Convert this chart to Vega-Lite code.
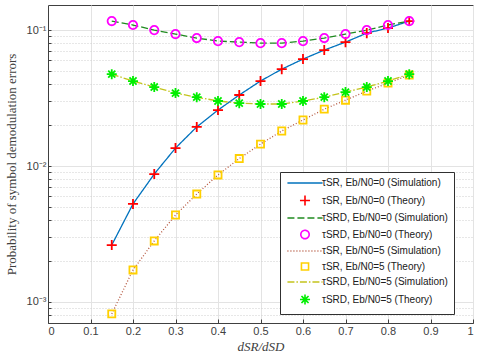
{
  "$schema": "https://vega.github.io/schema/vega-lite/v6.json",
  "width": 425,
  "height": 318,
  "autosize": {"type": "none"},
  "padding": {"left": 48, "top": 5, "right": 7, "bottom": 37},
  "background": "white",
  "config": {
    "view": {"stroke": "#404040", "strokeWidth": 1},
    "font": "Liberation Sans",
    "axis": {
      "domainColor": "#404040",
      "tickColor": "#404040",
      "labelColor": "#404040",
      "labelFontSize": 11,
      "labelFont": "Liberation Sans",
      "titleFont": "Liberation Serif",
      "titleFontWeight": "normal",
      "titleColor": "#404040",
      "gridColor": "#e3e3e3",
      "gridOpacity": 1
    },
    "legend": {
      "orient": "none",
      "legendX": 232,
      "legendY": 167,
      "padding": 6,
      "fillColor": "white",
      "strokeColor": "#303030",
      "labelFontSize": 10,
      "labelFont": "Liberation Sans",
      "labelColor": "#202020",
      "labelLimit": 300,
      "symbolSize": 70,
      "symbolStrokeWidth": 1.6,
      "symbolOffset": 14,
      "labelOffset": 12,
      "rowPadding": 3.5,
      "title": null
    }
  },
  "data": {
    "values": [
      {"x": 0.15, "p": 0.00262, "sim": "τSR, Eb/N0=0 (Simulation)", "theo": "τSR, Eb/N0=0 (Theory)"},
      {"x": 0.2, "p": 0.00526, "sim": "τSR, Eb/N0=0 (Simulation)", "theo": "τSR, Eb/N0=0 (Theory)"},
      {"x": 0.25, "p": 0.00873, "sim": "τSR, Eb/N0=0 (Simulation)", "theo": "τSR, Eb/N0=0 (Theory)"},
      {"x": 0.3, "p": 0.01355, "sim": "τSR, Eb/N0=0 (Simulation)", "theo": "τSR, Eb/N0=0 (Theory)"},
      {"x": 0.35, "p": 0.0194, "sim": "τSR, Eb/N0=0 (Simulation)", "theo": "τSR, Eb/N0=0 (Theory)"},
      {"x": 0.4, "p": 0.0258, "sim": "τSR, Eb/N0=0 (Simulation)", "theo": "τSR, Eb/N0=0 (Theory)"},
      {"x": 0.45, "p": 0.0333, "sim": "τSR, Eb/N0=0 (Simulation)", "theo": "τSR, Eb/N0=0 (Theory)"},
      {"x": 0.5, "p": 0.0422, "sim": "τSR, Eb/N0=0 (Simulation)", "theo": "τSR, Eb/N0=0 (Theory)"},
      {"x": 0.55, "p": 0.0516, "sim": "τSR, Eb/N0=0 (Simulation)", "theo": "τSR, Eb/N0=0 (Theory)"},
      {"x": 0.6, "p": 0.0612, "sim": "τSR, Eb/N0=0 (Simulation)", "theo": "τSR, Eb/N0=0 (Theory)"},
      {"x": 0.65, "p": 0.0713, "sim": "τSR, Eb/N0=0 (Simulation)", "theo": "τSR, Eb/N0=0 (Theory)"},
      {"x": 0.7, "p": 0.0816, "sim": "τSR, Eb/N0=0 (Simulation)", "theo": "τSR, Eb/N0=0 (Theory)"},
      {"x": 0.75, "p": 0.095, "sim": "τSR, Eb/N0=0 (Simulation)", "theo": "τSR, Eb/N0=0 (Theory)"},
      {"x": 0.8, "p": 0.1035, "sim": "τSR, Eb/N0=0 (Simulation)", "theo": "τSR, Eb/N0=0 (Theory)"},
      {"x": 0.85, "p": 0.1165, "sim": "τSR, Eb/N0=0 (Simulation)", "theo": "τSR, Eb/N0=0 (Theory)"},

      {"x": 0.15, "p": 0.1165, "sim": "τSRD, Eb/N0=0 (Simulation)", "theo": "τSRD, Eb/N0=0 (Theory)"},
      {"x": 0.2, "p": 0.109, "sim": "τSRD, Eb/N0=0 (Simulation)", "theo": "τSRD, Eb/N0=0 (Theory)"},
      {"x": 0.25, "p": 0.1, "sim": "τSRD, Eb/N0=0 (Simulation)", "theo": "τSRD, Eb/N0=0 (Theory)"},
      {"x": 0.3, "p": 0.0935, "sim": "τSRD, Eb/N0=0 (Simulation)", "theo": "τSRD, Eb/N0=0 (Theory)"},
      {"x": 0.35, "p": 0.0874, "sim": "τSRD, Eb/N0=0 (Simulation)", "theo": "τSRD, Eb/N0=0 (Theory)"},
      {"x": 0.4, "p": 0.083, "sim": "τSRD, Eb/N0=0 (Simulation)", "theo": "τSRD, Eb/N0=0 (Theory)"},
      {"x": 0.45, "p": 0.0816, "sim": "τSRD, Eb/N0=0 (Simulation)", "theo": "τSRD, Eb/N0=0 (Theory)"},
      {"x": 0.5, "p": 0.0802, "sim": "τSRD, Eb/N0=0 (Simulation)", "theo": "τSRD, Eb/N0=0 (Theory)"},
      {"x": 0.55, "p": 0.0802, "sim": "τSRD, Eb/N0=0 (Simulation)", "theo": "τSRD, Eb/N0=0 (Theory)"},
      {"x": 0.6, "p": 0.083, "sim": "τSRD, Eb/N0=0 (Simulation)", "theo": "τSRD, Eb/N0=0 (Theory)"},
      {"x": 0.65, "p": 0.0874, "sim": "τSRD, Eb/N0=0 (Simulation)", "theo": "τSRD, Eb/N0=0 (Theory)"},
      {"x": 0.7, "p": 0.0935, "sim": "τSRD, Eb/N0=0 (Simulation)", "theo": "τSRD, Eb/N0=0 (Theory)"},
      {"x": 0.75, "p": 0.1, "sim": "τSRD, Eb/N0=0 (Simulation)", "theo": "τSRD, Eb/N0=0 (Theory)"},
      {"x": 0.8, "p": 0.109, "sim": "τSRD, Eb/N0=0 (Simulation)", "theo": "τSRD, Eb/N0=0 (Theory)"},
      {"x": 0.85, "p": 0.1165, "sim": "τSRD, Eb/N0=0 (Simulation)", "theo": "τSRD, Eb/N0=0 (Theory)"},

      {"x": 0.15, "p": 0.000817, "sim": "τSR, Eb/N0=5 (Simulation)", "theo": "τSR, Eb/N0=5 (Theory)"},
      {"x": 0.2, "p": 0.00172, "sim": "τSR, Eb/N0=5 (Simulation)", "theo": "τSR, Eb/N0=5 (Theory)"},
      {"x": 0.25, "p": 0.00281, "sim": "τSR, Eb/N0=5 (Simulation)", "theo": "τSR, Eb/N0=5 (Theory)"},
      {"x": 0.3, "p": 0.00436, "sim": "τSR, Eb/N0=5 (Simulation)", "theo": "τSR, Eb/N0=5 (Theory)"},
      {"x": 0.35, "p": 0.00622, "sim": "τSR, Eb/N0=5 (Simulation)", "theo": "τSR, Eb/N0=5 (Theory)"},
      {"x": 0.4, "p": 0.0086, "sim": "τSR, Eb/N0=5 (Simulation)", "theo": "τSR, Eb/N0=5 (Theory)"},
      {"x": 0.45, "p": 0.01135, "sim": "τSR, Eb/N0=5 (Simulation)", "theo": "τSR, Eb/N0=5 (Theory)"},
      {"x": 0.5, "p": 0.0145, "sim": "τSR, Eb/N0=5 (Simulation)", "theo": "τSR, Eb/N0=5 (Theory)"},
      {"x": 0.55, "p": 0.0181, "sim": "τSR, Eb/N0=5 (Simulation)", "theo": "τSR, Eb/N0=5 (Theory)"},
      {"x": 0.6, "p": 0.0218, "sim": "τSR, Eb/N0=5 (Simulation)", "theo": "τSR, Eb/N0=5 (Theory)"},
      {"x": 0.65, "p": 0.0262, "sim": "τSR, Eb/N0=5 (Simulation)", "theo": "τSR, Eb/N0=5 (Theory)"},
      {"x": 0.7, "p": 0.0305, "sim": "τSR, Eb/N0=5 (Simulation)", "theo": "τSR, Eb/N0=5 (Theory)"},
      {"x": 0.75, "p": 0.0356, "sim": "τSR, Eb/N0=5 (Simulation)", "theo": "τSR, Eb/N0=5 (Theory)"},
      {"x": 0.8, "p": 0.0407, "sim": "τSR, Eb/N0=5 (Simulation)", "theo": "τSR, Eb/N0=5 (Theory)"},
      {"x": 0.85, "p": 0.0467, "sim": "τSR, Eb/N0=5 (Simulation)", "theo": "τSR, Eb/N0=5 (Theory)"},

      {"x": 0.15, "p": 0.0474, "sim": "τSRD, Eb/N0=5 (Simulation)", "theo": "τSRD, Eb/N0=5 (Theory)"},
      {"x": 0.2, "p": 0.0422, "sim": "τSRD, Eb/N0=5 (Simulation)", "theo": "τSRD, Eb/N0=5 (Theory)"},
      {"x": 0.25, "p": 0.0381, "sim": "τSRD, Eb/N0=5 (Simulation)", "theo": "τSRD, Eb/N0=5 (Theory)"},
      {"x": 0.3, "p": 0.0344, "sim": "τSRD, Eb/N0=5 (Simulation)", "theo": "τSRD, Eb/N0=5 (Theory)"},
      {"x": 0.35, "p": 0.0321, "sim": "τSRD, Eb/N0=5 (Simulation)", "theo": "τSRD, Eb/N0=5 (Theory)"},
      {"x": 0.4, "p": 0.0301, "sim": "τSRD, Eb/N0=5 (Simulation)", "theo": "τSRD, Eb/N0=5 (Theory)"},
      {"x": 0.45, "p": 0.029, "sim": "τSRD, Eb/N0=5 (Simulation)", "theo": "τSRD, Eb/N0=5 (Theory)"},
      {"x": 0.5, "p": 0.0286, "sim": "τSRD, Eb/N0=5 (Simulation)", "theo": "τSRD, Eb/N0=5 (Theory)"},
      {"x": 0.55, "p": 0.0286, "sim": "τSRD, Eb/N0=5 (Simulation)", "theo": "τSRD, Eb/N0=5 (Theory)"},
      {"x": 0.6, "p": 0.0301, "sim": "τSRD, Eb/N0=5 (Simulation)", "theo": "τSRD, Eb/N0=5 (Theory)"},
      {"x": 0.65, "p": 0.0321, "sim": "τSRD, Eb/N0=5 (Simulation)", "theo": "τSRD, Eb/N0=5 (Theory)"},
      {"x": 0.7, "p": 0.035, "sim": "τSRD, Eb/N0=5 (Simulation)", "theo": "τSRD, Eb/N0=5 (Theory)"},
      {"x": 0.75, "p": 0.0381, "sim": "τSRD, Eb/N0=5 (Simulation)", "theo": "τSRD, Eb/N0=5 (Theory)"},
      {"x": 0.8, "p": 0.0422, "sim": "τSRD, Eb/N0=5 (Simulation)", "theo": "τSRD, Eb/N0=5 (Theory)"},
      {"x": 0.85, "p": 0.0474, "sim": "τSRD, Eb/N0=5 (Simulation)", "theo": "τSRD, Eb/N0=5 (Theory)"}
    ]
  },
  "encoding": {
    "x": {
      "field": "x",
      "type": "quantitative",
      "scale": {"domain": [0, 1], "nice": false, "zero": false},
      "axis": {
        "values": [0, 0.1, 0.2, 0.3, 0.4, 0.5, 0.6, 0.7, 0.8, 0.9, 1],
        "format": "~g",
        "title": "dSR/dSD",
        "titleFontStyle": "italic",
        "titleFontSize": 13,
        "titlePadding": 4,
        "tickSize": -4,
        "labelPadding": 6,
        "gridDash": []
      }
    },
    "y": {
      "field": "p",
      "type": "quantitative",
      "scale": {"type": "log", "domain": [0.0007, 0.153], "nice": false},
      "axis": {
        "values": [0.0008, 0.0009, 0.001, 0.002, 0.003, 0.004, 0.005, 0.006, 0.007, 0.008, 0.009, 0.01, 0.02, 0.03, 0.04, 0.05, 0.06, 0.07, 0.08, 0.09, 0.1],
        "labelExpr": "datum.value == 0.1 ? '10⁻¹' : datum.value == 0.01 ? '10⁻²' : datum.value == 0.001 ? '10⁻³' : ''",
        "title": "Probability of symbol demodulation errors",
        "titleFontSize": 13,
        "titlePadding": 8,
        "tickSize": -3,
        "labelPadding": 5,
        "gridDash": {"condition": {"test": "datum.value == 0.1 || datum.value == 0.01 || datum.value == 0.001", "value": []}, "value": [1, 2]},
        "gridColor": {"condition": {"test": "datum.value == 0.1 || datum.value == 0.01 || datum.value == 0.001", "value": "#e3e3e3"}, "value": "#cfcfcf"}
      }
    }
  },
  "layer": [
    {
      "mark": {"type": "line", "strokeWidth": 1.3},
      "encoding": {
        "color": {
          "field": "sim",
          "type": "nominal",
          "scale": {
            "domain": ["τSR, Eb/N0=0 (Simulation)", "τSR, Eb/N0=0 (Theory)", "τSRD, Eb/N0=0 (Simulation)", "τSRD, Eb/N0=0 (Theory)", "τSR, Eb/N0=5 (Simulation)", "τSR, Eb/N0=5 (Theory)", "τSRD, Eb/N0=5 (Simulation)", "τSRD, Eb/N0=5 (Theory)"],
            "range": ["#0072BD", "#FF0000", "#1F8A1F", "#FF00FF", "#B5573F", "#FFD000", "#C4C41C", "#00EE00"]
          }
        },
        "strokeDash": {
          "field": "sim",
          "type": "nominal",
          "scale": {
            "domain": ["τSR, Eb/N0=0 (Simulation)", "τSR, Eb/N0=0 (Theory)", "τSRD, Eb/N0=0 (Simulation)", "τSRD, Eb/N0=0 (Theory)", "τSR, Eb/N0=5 (Simulation)", "τSR, Eb/N0=5 (Theory)", "τSRD, Eb/N0=5 (Simulation)", "τSRD, Eb/N0=5 (Theory)"],
            "range": [[1, 0], [1, 0], [7, 3], [1, 0], [1, 2], [1, 0], [7, 2, 1.5, 2], [1, 0]]
          }
        }
      }
    },
    {
      "mark": {"type": "point", "filled": false, "size": 70, "strokeWidth": 1.8, "opacity": 1},
      "encoding": {
        "color": {"field": "theo", "type": "nominal"},
        "shape": {
          "field": "theo",
          "type": "nominal",
          "scale": {
            "domain": ["τSR, Eb/N0=0 (Simulation)", "τSR, Eb/N0=0 (Theory)", "τSRD, Eb/N0=0 (Simulation)", "τSRD, Eb/N0=0 (Theory)", "τSR, Eb/N0=5 (Simulation)", "τSR, Eb/N0=5 (Theory)", "τSRD, Eb/N0=5 (Simulation)", "τSRD, Eb/N0=5 (Theory)"],
            "range": ["M-4.2,0H4.2", "M-1.2,0H1.2M0,-1.2V1.2", "M-4.2,0H4.2", "circle", "M-4.2,0H4.2", "M-0.85,-0.85H0.85V0.85H-0.85Z", "M-4.2,0H4.2", "M-1.2,0H1.2M0,-1.2V1.2M-0.85,-0.85L0.85,0.85M-0.85,0.85L0.85,-0.85"]
          }
        }
      }
    }
  ]
}
